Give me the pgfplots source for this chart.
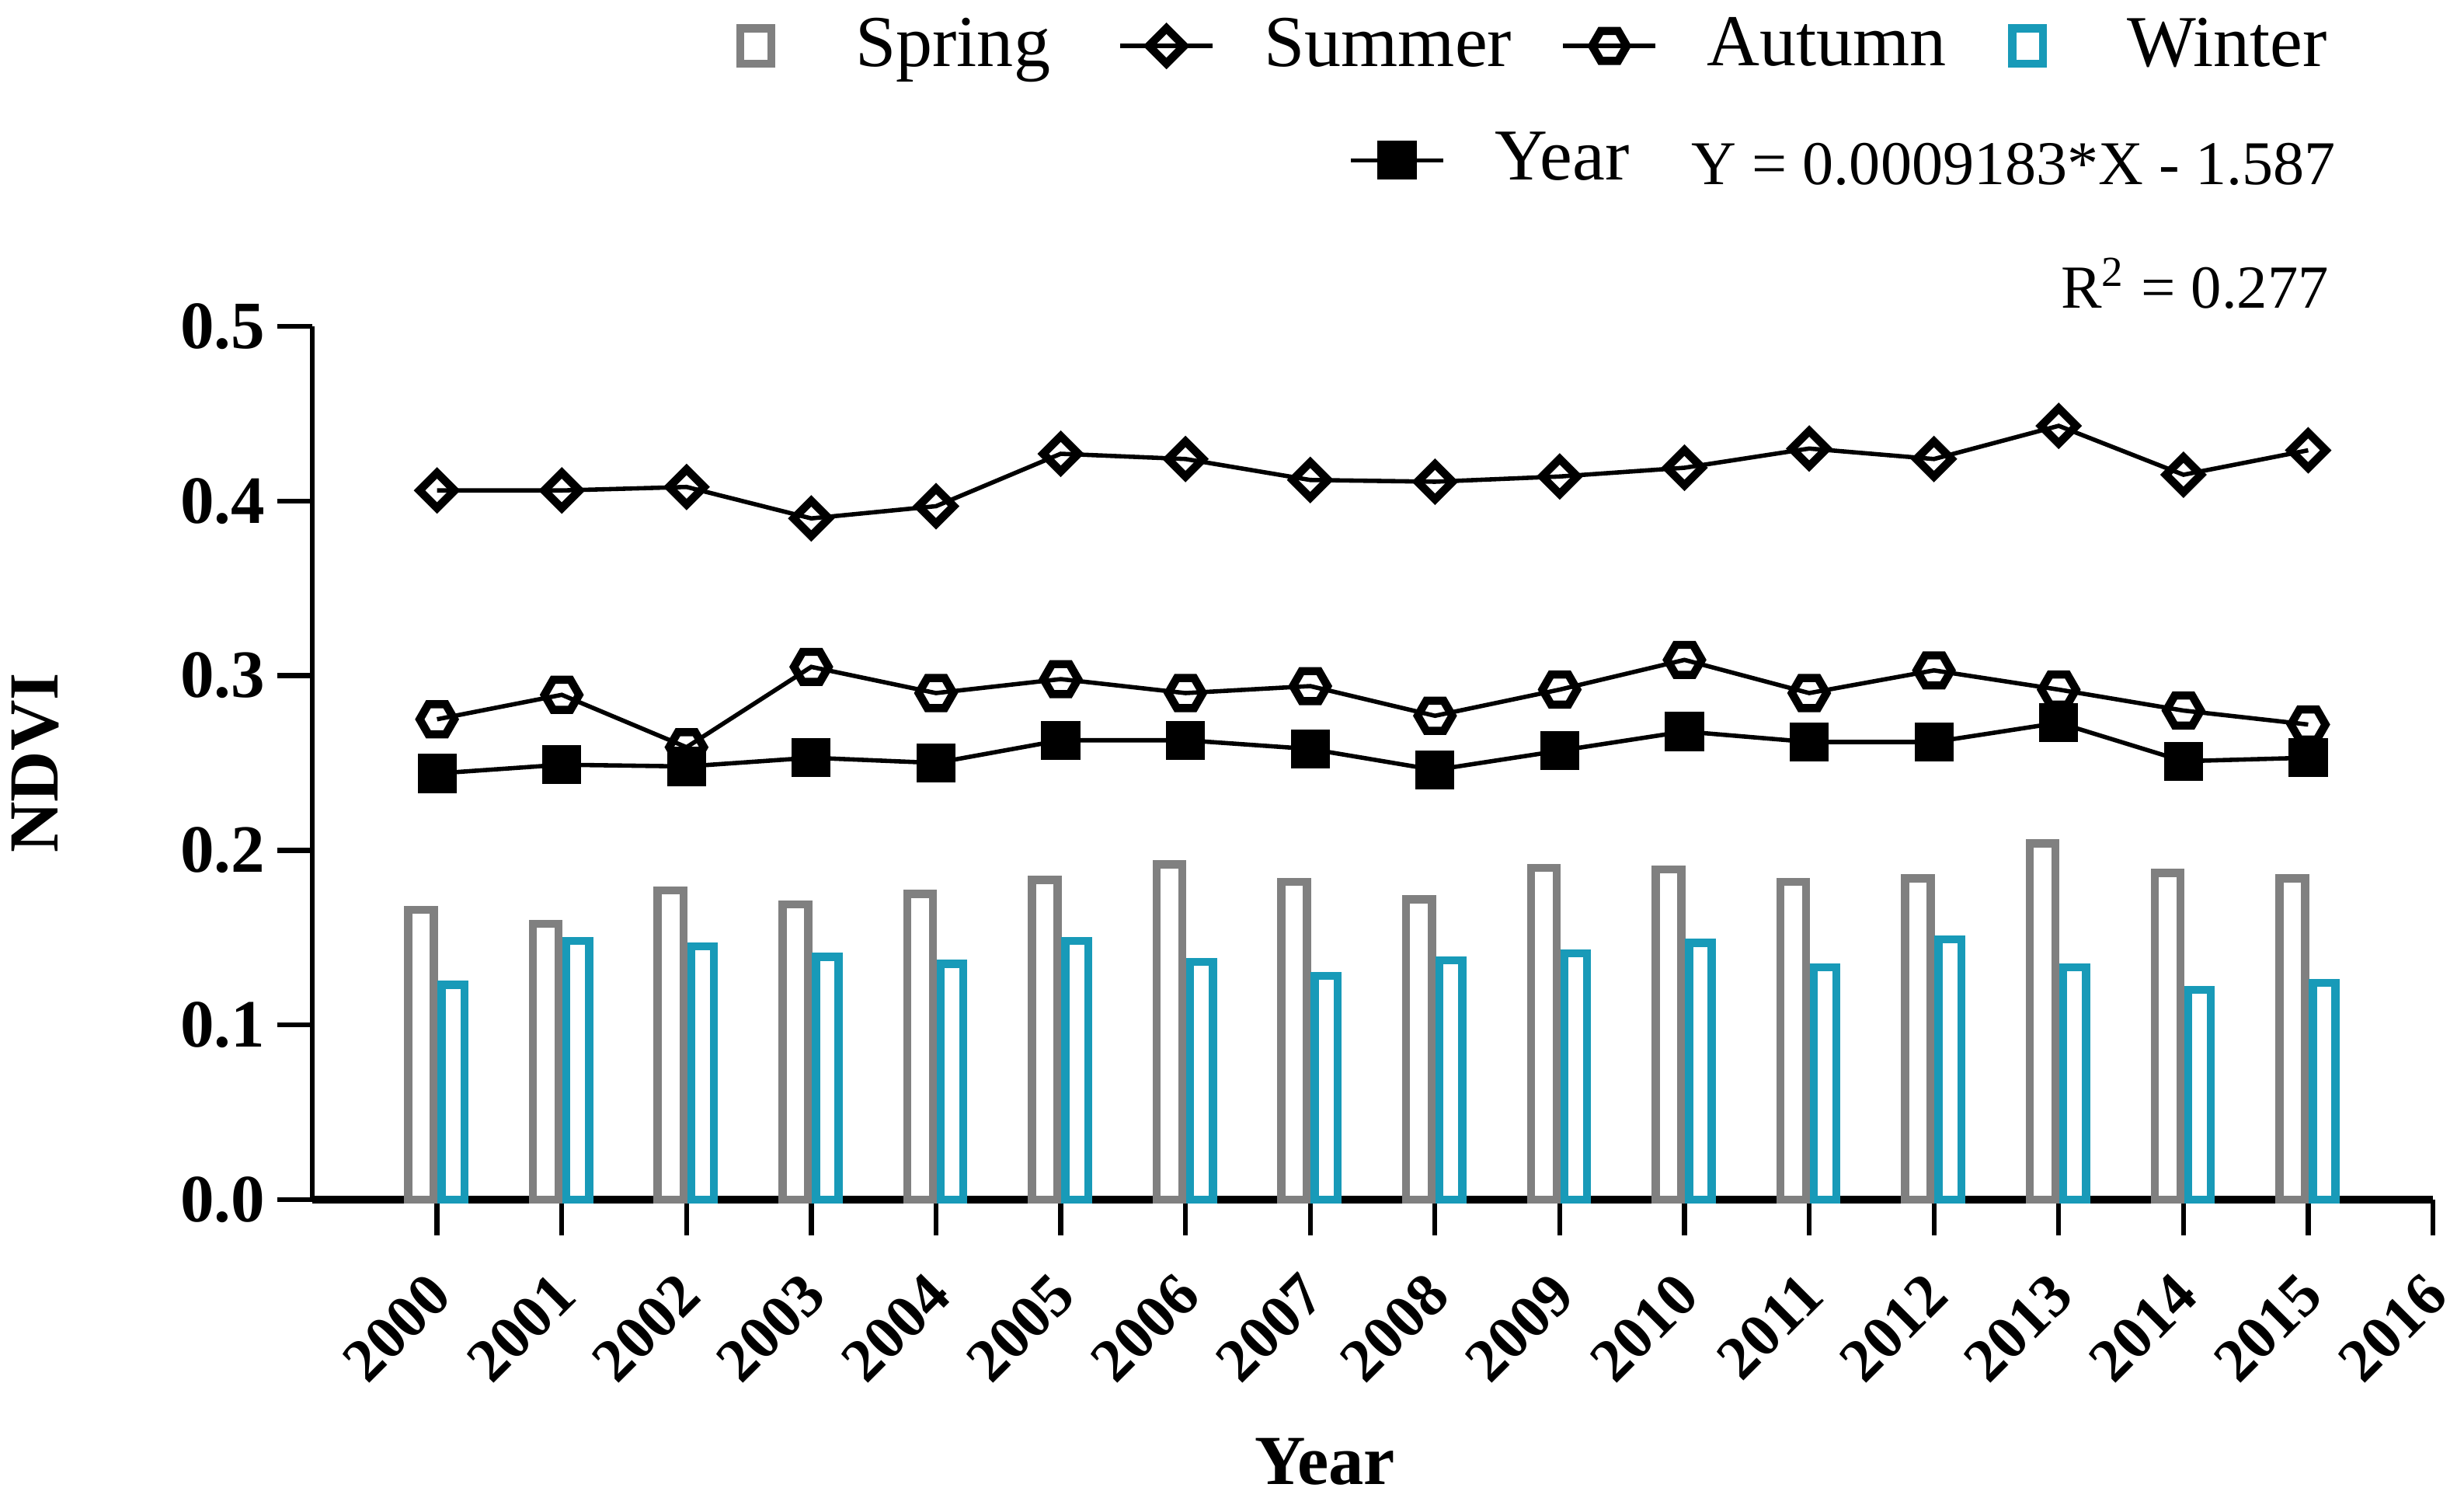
\documentclass[border=0pt]{standalone}
\usepackage{fontspec}
\setmainfont{Liberation Serif}
\usepackage{pgfplots}
\usepackage{pgfplotstable}
\pgfplotsset{compat=1.18}
\usetikzlibrary{plotmarks}
\definecolor{sgray}{RGB}{128,128,128}
\definecolor{steal}{RGB}{24,154,184}
\pgfdeclareplotmark{hexagon}{%
  \pgfpathmoveto{\pgfqpoint{\pgfplotmarksize}{0pt}}%
  \pgfpathlineto{\pgfqpoint{0.5\pgfplotmarksize}{0.866\pgfplotmarksize}}%
  \pgfpathlineto{\pgfqpoint{-0.5\pgfplotmarksize}{0.866\pgfplotmarksize}}%
  \pgfpathlineto{\pgfqpoint{-\pgfplotmarksize}{0pt}}%
  \pgfpathlineto{\pgfqpoint{-0.5\pgfplotmarksize}{-0.866\pgfplotmarksize}}%
  \pgfpathlineto{\pgfqpoint{0.5\pgfplotmarksize}{-0.866\pgfplotmarksize}}%
  \pgfpathclose
  \pgfusepathqstroke}
\pgfplotstableread{
yr   spring winter summer autumn year
2000 0.166 0.123 0.406 0.275 0.244
2001 0.158 0.148 0.406 0.289 0.249
2002 0.177 0.145 0.408 0.259 0.248
2003 0.169 0.139 0.390 0.305 0.253
2004 0.175 0.135 0.397 0.290 0.250
2005 0.183 0.148 0.427 0.298 0.263
2006 0.192 0.136 0.424 0.290 0.263
2007 0.182 0.128 0.412 0.294 0.258
2008 0.172 0.137 0.411 0.277 0.246
2009 0.190 0.141 0.414 0.292 0.257
2010 0.189 0.147 0.419 0.309 0.268
2011 0.182 0.133 0.430 0.290 0.262
2012 0.184 0.149 0.424 0.303 0.262
2013 0.204 0.133 0.443 0.292 0.273
2014 0.187 0.120 0.415 0.280 0.251
2015 0.184 0.124 0.429 0.272 0.253
}\ndvi
\begin{document}
\begin{tikzpicture}
\begin{axis}[
  at={(0,0)}, anchor=south west,
  width=13.77cm, height=5.67cm, scale only axis,
  clip=false,
  xmin=1999, xmax=2016, ymin=0, ymax=0.5,
  axis x line=bottom, axis y line=left,
  axis line style={-},
  x axis line style={line width=1.5pt},
  y axis line style={line width=0.9pt},
  xtick={2000,2001,2002,2003,2004,2005,2006,2007,2008,2009,2010,2011,2012,2013,2014,2015,2016},
  xticklabels={2000,2001,2002,2003,2004,2005,2006,2007,2008,2009,2010,2011,2012,2013,2014,2015,2016},
  ytick={0,0.1,0.2,0.3,0.4,0.5},
  yticklabels={0.0,0.1,0.2,0.3,0.4,0.5},
  tick align=outside, major tick length=0.23cm,
  tick style={black, line width=0.9pt},
  minor tick num=0,
  xticklabel style={xshift=-0.076cm, yshift=-0.05cm, rotate=45, anchor=north east, font=\fontsize{11.3}{13}\selectfont\bfseries},
  yticklabel style={font=\fontsize{12.5}{14}\selectfont\bfseries, inner xsep=2pt},
  xlabel={Year}, ylabel={NDVI},
  xlabel style={at={(axis description cs:0.4775,-0.30)}, anchor=center, font=\fontsize{13}{15}\selectfont\bfseries},
  ylabel style={at={(axis description cs:-0.1307,0.5)}, anchor=center, font=\fontsize{13}{15}\selectfont\bfseries},
  legend columns=4,
  legend style={at={(0.9558,1.321)}, anchor=east, draw=none, fill=none, inner sep=0pt,
    font=\fontsize{13.5}{16}\selectfont,
    /tikz/every odd column/.append style={column sep=0.25cm},
    /tikz/column 2/.style={column sep=0.37cm},
    /tikz/column 4/.style={column sep=0.25cm},
    /tikz/column 6/.style={column sep=0.13cm}},
]
\addplot[ybar, bar width=0.206, bar shift=-0.128, draw=sgray, fill=white, line width=1.5pt,
  legend image code/.code={\path (0cm,0cm) (0.6cm,0cm); \draw[draw=sgray, fill=white, line width=1.5pt] (0.2cm,-0.115cm) rectangle (0.4cm,0.115cm);}]
  table[x=yr, y=spring]{\ndvi};
\addlegendentry{Spring}
\addplot[black, line width=0.8pt, mark=square, mark size=2.3pt, mark options={solid, rotate=45, line width=1.5pt}]
  table[x=yr, y=summer]{\ndvi};
\addlegendentry{Summer}
\addplot[black, line width=0.8pt, mark=hexagon, mark size=3.2pt, mark options={solid, line width=1.5pt}]
  table[x=yr, y=autumn]{\ndvi};
\addlegendentry{Autumn}
\addplot[ybar, bar width=0.182, bar shift=0.128, draw=steal, fill=white, line width=1.5pt,
  legend image code/.code={\path (0cm,0cm) (0.6cm,0cm); \draw[draw=steal, fill=white, line width=1.5pt] (0.2cm,-0.115cm) rectangle (0.4cm,0.115cm);}]
  table[x=yr, y=winter]{\ndvi};
\addlegendentry{Winter}
\addplot[black, line width=0.8pt, mark=square*, mark size=3.2pt, mark options={solid, fill=black, line width=0.8pt}]
  table[x=yr, y=year]{\ndvi};
\node[anchor=base east, inner sep=0pt, font=\fontsize{11.5}{13}\selectfont] at (rel axis cs:0.9545,1.1623) {Y = 0.0009183*X - 1.587};
\node[anchor=base east, inner sep=0pt, font=\fontsize{11.3}{13}\selectfont] at (rel axis cs:0.9514,1.0212) {R\textsuperscript{2} = 0.277};
\end{axis}
\begin{axis}[
  at={(0,0)}, anchor=south west,
  width=13.77cm, height=5.67cm, scale only axis,
  hide axis, xmin=0, xmax=1, ymin=0, ymax=1,
  legend columns=1,
  legend style={at={(0.6267,1.190)}, anchor=east, draw=none, fill=none, inner sep=0pt,
    font=\fontsize{13.5}{16}\selectfont,
    /tikz/every odd column/.append style={column sep=0.25cm}},
]
\addlegendimage{black, line width=0.8pt, mark=square*, mark size=3.2pt, mark options={solid, fill=black, line width=0.8pt}}
\addlegendentry{Year}
\end{axis}
\pgfresetboundingbox
\path[use as bounding box] (-2.028cm,-1.932cm) rectangle (13.972cm,7.788cm);
\end{tikzpicture}
\end{document}
